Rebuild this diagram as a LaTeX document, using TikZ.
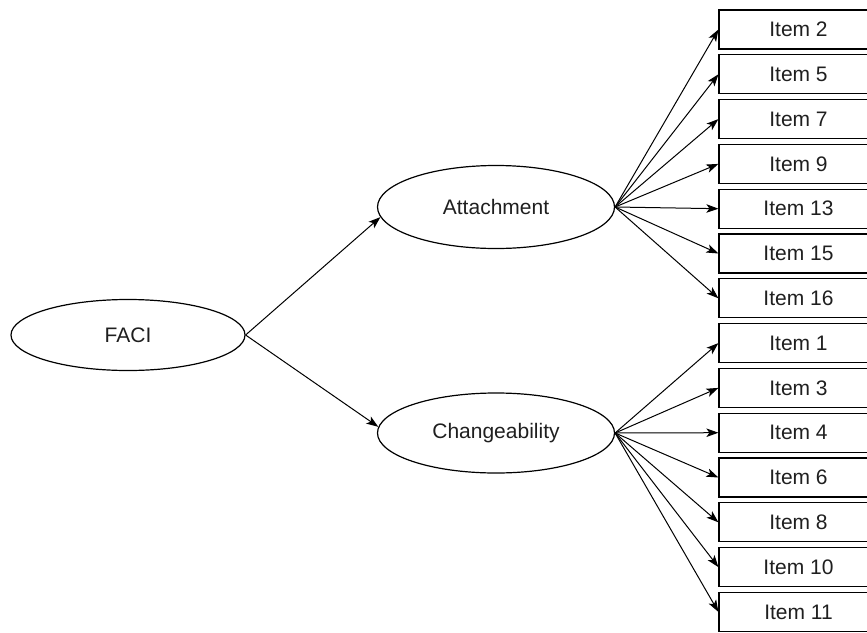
\documentclass[tikz,border=0pt]{standalone}
\usepackage{fontspec}
\setmainfont{Liberation Sans}
\usetikzlibrary{shapes.geometric,arrows.meta}
\begin{document}
\begin{tikzpicture}[x=1pt,y=-1pt,
  latent/.style={draw, ellipse, line width=1.2pt, inner sep=0pt, font=\fontsize{21}{25}\selectfont, text=black!88},
  itembox/.style={draw, rectangle, line width=1.2pt, minimum width=159pt, minimum height=39pt, inner sep=0pt, font=\fontsize{21}{25}\selectfont, text=black!88},
  conn/.style={line width=1pt, -{Stealth[length=12pt,width=8.5pt,inset=3pt]}}]
\path[use as bounding box] (0,0) rectangle (867,632);
\clip (0,0) rectangle (867,632);
\node[latent, minimum width=234pt, minimum height=71pt] (faci) at (128,335) {FACI};
\node[latent, minimum width=237pt, minimum height=83pt] (att) at (496,207) {Attachment};
\node[latent, minimum width=237pt, minimum height=80pt] (chg) at (496,433) {Changeability};
\foreach \lab [count=\i from 0] in {2,5,7,9,13,15,16,1,3,4,6,8,10,11} {
  \node[itembox] (it\lab) at (798.5, 29.5+44.8*\i) {Item \lab};
}
\draw[conn] (faci.east) -- (att.185);
\draw[conn] (faci.east) -- (chg.177);
\foreach \lab in {2,5,7,9,13,15,16} { \draw[conn] (att.east) -- (it\lab.west); }
\foreach \lab in {1,3,4,6,8,10,11} { \draw[conn] (chg.east) -- (it\lab.west); }
\end{tikzpicture}
\end{document}
